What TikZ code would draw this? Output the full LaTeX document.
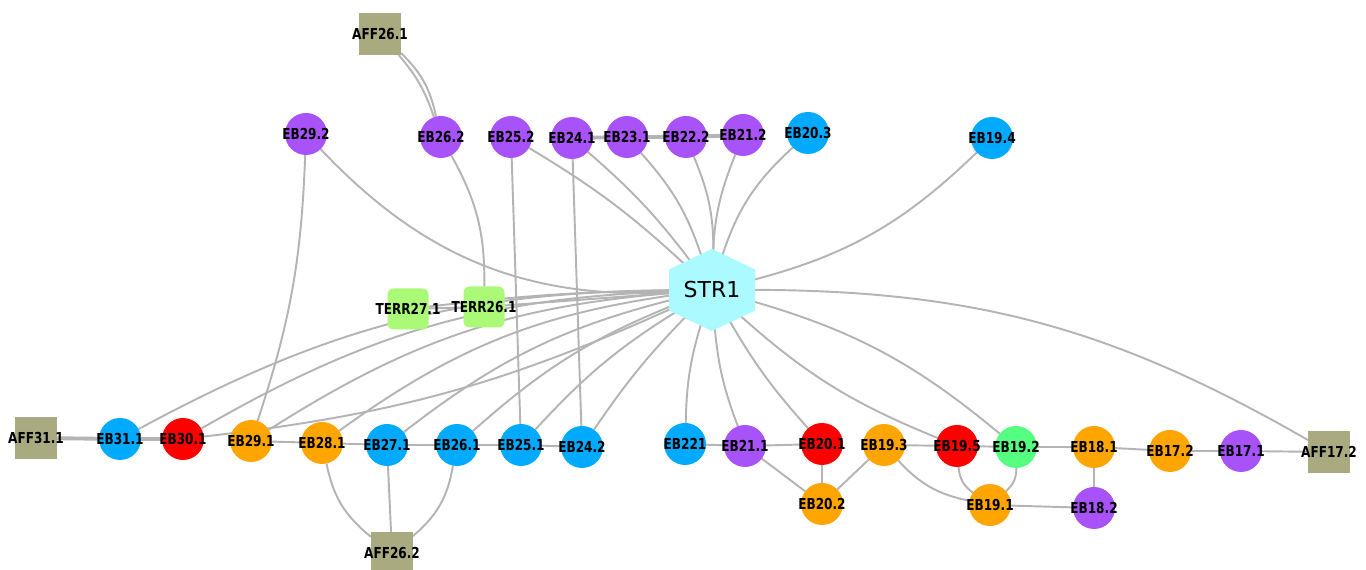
\documentclass[tikz,border=0pt]{standalone}
\usepackage{fontspec}
\setmainfont{DejaVu Sans}
\newfontfamily\lblfont[FakeStretch=0.8]{DejaVu Sans}
\usetikzlibrary{backgrounds}
\definecolor{cpur}{RGB}{168,82,250}
\definecolor{cblu}{RGB}{0,170,255}
\definecolor{cred}{RGB}{255,0,0}
\definecolor{corg}{RGB}{255,165,0}
\definecolor{cmint}{RGB}{85,255,128}
\definecolor{cterr}{RGB}{170,250,120}
\definecolor{caff}{RGB}{170,170,128}
\definecolor{cstr}{RGB}{170,250,255}
\definecolor{cedge}{RGB}{180,180,180}
\newcommand\zw[1]{\makebox[0pt]{#1}}
\begin{document}
\begin{tikzpicture}[x=0.02cm,y=0.02cm,
  lbl/.style={font=\lblfont\bfseries\fontsize{8.6}{9}\selectfont, text=black},
  eb/.style={circle, minimum size=0.84cm, inner sep=0pt, outer sep=0pt, lbl},
  pur/.style={eb, fill=cpur},
  blu/.style={eb, fill=cblu},
  rd/.style={eb, fill=cred},
  org/.style={eb, fill=corg},
  mint/.style={eb, fill=cmint},
  aff/.style={rectangle, minimum size=0.84cm, inner sep=0pt, outer sep=0pt, fill=caff, lbl},
  terr/.style={rectangle, rounded corners=0.12cm, minimum size=0.82cm, inner sep=0pt, outer sep=0pt, fill=cterr, lbl},
  strnode/.style={circle, minimum size=1.2cm, inner sep=0pt, font=\fontsize{12.5}{14}\selectfont},
  link/.style={draw=cedge, line width=1.1pt},
  dbl/.style={draw=cedge, line width=2.2pt},
]
\useasboundingbox (0,0) rectangle (1366,570);
\clip (0,0) rectangle (1366,570);

% upper row
\node[aff] (aff261) at (380,536) {\zw{AFF26.1}};
\node[pur] (eb292) at (306,436) {\zw{EB29.2}};
\node[pur] (eb262) at (441,433) {\zw{EB26.2}};
\node[pur] (eb252) at (511,433) {\zw{EB25.2}};
\node[pur] (eb241) at (572,432) {\zw{EB24.1}};
\node[pur] (eb231) at (627,433) {\zw{EB23.1}};
\node[pur] (eb222) at (686,433) {\zw{EB22.2}};
\node[pur] (eb212) at (743,435) {\zw{EB21.2}};
\node[blu] (eb203) at (808,437) {\zw{EB20.3}};
\node[blu] (eb194) at (992,432) {\zw{EB19.4}};

% hub
\fill[cstr, shift={(712,280)}] (0,41) -- (43,20.5) -- (43,-20.5) -- (0,-41) -- (-43,-20.5) -- (-43,20.5) -- cycle;
\node[strnode] (str) at (712,280) {STR1};
\node[terr] (terr271) at (408,261) {\zw{TERR27.1}};
\node[terr] (terr261) at (484,263) {\zw{TERR26.1}};

% lower left row
\node[aff] (aff311) at (36,132) {\zw{AFF31.1}};
\node[blu] (eb311) at (120,131) {\zw{EB31.1}};
\node[rd]  (eb301) at (183,131) {\zw{EB30.1}};
\node[org] (eb291) at (251,129) {\zw{EB29.1}};
\node[org] (eb281) at (322,127) {\zw{EB28.1}};
\node[blu] (eb271) at (387,125) {\zw{EB27.1}};
\node[blu] (eb261) at (457,125) {\zw{EB26.1}};
\node[blu] (eb251) at (521,125) {\zw{EB25.1}};
\node[blu] (eb242) at (582,123) {\zw{EB24.2}};
\node[aff] (aff262) at (392,17) {\zw{AFF26.2}};

% lower right row
\node[blu] (eb221) at (685,126) {\zw{EB221}};
\node[pur] (eb211) at (745,124) {\zw{EB21.1}};
\node[rd]  (eb201) at (822,126) {\zw{EB20.1}};
\node[org] (eb202) at (822,66) {\zw{EB20.2}};
\node[org] (eb193) at (884,125) {\zw{EB19.3}};
\node[rd]  (eb195) at (957,124) {\zw{EB19.5}};
\node[mint] (eb192) at (1016,123) {\zw{EB19.2}};
\node[org] (eb181) at (1094,123) {\zw{EB18.1}};
\node[org] (eb172) at (1170,119) {\zw{EB17.2}};
\node[pur] (eb171) at (1241,119) {\zw{EB17.1}};
\node[aff] (aff172) at (1329,118) {\zw{AFF17.2}};
\node[org] (eb191) at (990,65) {\zw{EB19.1}};
\node[pur] (eb182) at (1094,62) {\zw{EB18.2}};

\begin{scope}[on background layer]
  % upper part
  \draw[link] (aff261) to[bend left=11] (eb262);
  \draw[link] (aff261) to[bend left=17] (eb262);
  \draw[link] (eb292) to[bend right=25] (str);
  \draw[link] (eb292) to[bend left=8] (eb291);
  \draw[link] (eb262) to[bend left=15] (terr261);
  \draw[link] (eb252) -- (eb251);
  \draw[link] (eb252) to[bend left=6] (str);
  \draw[link] (eb241) -- (eb242);
  \draw[link] (eb241) to[bend left=6] (str);
  \draw[dbl] (eb241) -- (eb231);
  \draw[dbl] (eb231) -- (eb222);
  \draw[dbl] (eb222) -- (eb212);
  \draw[link] (eb231) to[bend left=12] (str);
  \draw[link] (eb222) to[bend left=12] (str);
  \draw[link] (eb212) to[bend right=10] (str);
  \draw[link] (eb203) to[bend right=15] (str);
  \draw[link] (eb194) to[bend left=15] (str);
  % hub to the right
  \draw[link] (str) to[bend left=15] (aff172);
  \draw[link] (str) to[bend left=12] (eb192);
  \draw[link] (str) to[bend right=10] (eb195);
  \draw[link] (str) to[bend right=6] (eb201);
  \draw[link] (str) to[bend right=8] (eb211);
  \draw[link] (str) to[bend right=8] (eb221);
  % hub to the lower left
  \draw[link] (eb311) to[bend left=14] (str);
  \draw[link] (eb301) to[bend left=14] (str);
  \draw[link] (eb301) to[bend right=9] (str);
  \draw[link] (eb291) to[bend left=14] (str);
  \draw[link] (eb281) to[bend left=14] (str);
  \draw[link] (eb271) to[bend left=12] (str);
  \draw[link] (eb261) to[bend left=10] (str);
  \draw[link] (eb251) to[bend left=8] (str);
  \draw[link] (eb242) to[bend left=5] (str);
  \draw[link] (terr271) to[bend left=3] (str);
  \draw[link] (terr261) -- (str);
  \draw[link] (terr271) -- (terr261);
  % lower left chain
  \draw[dbl] (aff311) -- (eb311);
  \draw[dbl] (eb311) -- (eb301);
  \draw[link] (eb291) -- (eb281);
  \draw[link] (eb281) -- (eb271);
  \draw[link] (eb271) -- (eb261);
  \draw[link] (eb261) -- (eb251);
  \draw[link] (eb251) -- (eb242);
  \draw[link] (eb281) to[bend right=20] (aff262);
  \draw[link] (eb271) -- (aff262);
  \draw[link] (eb261) to[bend left=20] (aff262);
  % lower right chain
  \draw[link] (eb221) -- (eb211);
  \draw[link] (eb211) -- (eb201);
  \draw[link] (eb211) -- (eb202);
  \draw[link] (eb201) -- (eb202);
  \draw[link] (eb202) -- (eb193);
  \draw[link] (eb193) -- (eb195);
  \draw[link] (eb195) -- (eb192);
  \draw[link] (eb192) -- (eb181);
  \draw[link] (eb181) -- (eb172);
  \draw[link] (eb172) -- (eb171);
  \draw[link] (eb171) -- (aff172);
  \draw[link] (eb181) -- (eb182);
  \draw[link] (eb191) -- (eb182);
  \draw[link] (eb193) to[bend right=18] (eb191);
  \draw[link] (eb195) to[bend right=25] (eb191);
  \draw[link] (eb192) to[bend left=25] (eb191);
\end{scope}
\end{tikzpicture}
\end{document}
